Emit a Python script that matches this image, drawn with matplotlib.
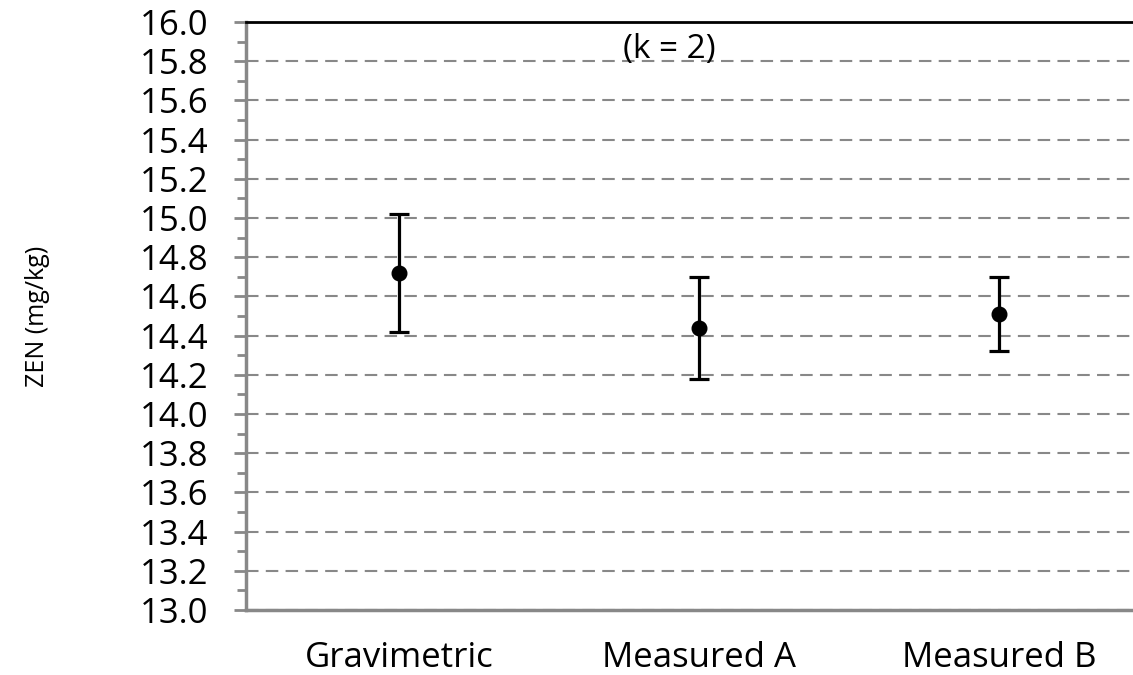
import matplotlib.pyplot as plt
from matplotlib.ticker import MultipleLocator, FormatStrFormatter

plt.rcParams['font.family'] = ['Open Sans', 'DejaVu Sans']

# data
categories = ['Gravimetric', 'Measured A', 'Measured B']
values = [14.72, 14.44, 14.51]
uncert = [0.30, 0.26, 0.19]   # expanded uncertainty, k = 2

fig = plt.figure(figsize=(11.33, 6.75), dpi=100)
ax = fig.add_axes([0.2171, 0.0963, 0.7829, 0.8711])

x = list(range(len(categories)))
ax.errorbar(x, values, yerr=uncert, fmt='o', color='black', ms=10.5,
            elinewidth=2.3, capsize=7, capthick=2.3, zorder=3)

ax.set_ylim(13.0, 16.0)
ax.set_xlim(-0.51, 2.447)
ax.yaxis.set_major_locator(MultipleLocator(0.2))
ax.yaxis.set_minor_locator(MultipleLocator(0.1))
ax.yaxis.set_major_formatter(FormatStrFormatter('%.1f'))
ax.set_xticks(x)
ax.set_xticklabels(categories, fontsize=25)

ax.grid(axis='y', which='major', color='#888888', linestyle=(0, (6, 3.5)), linewidth=1.5)
ax.set_axisbelow(True)

ax.tick_params(axis='y', which='major', direction='out', length=9, width=2,
               color='#888888', labelsize=25, pad=18)
ax.tick_params(axis='y', which='minor', direction='out', length=6.5, width=2,
               color='#888888')
ax.tick_params(axis='x', length=0, pad=22)

ax.spines['right'].set_visible(False)
ax.spines['top'].set_color('black')
ax.spines['top'].set_linewidth(2)
ax.spines['left'].set_color('#888888')
ax.spines['left'].set_linewidth(2.5)
ax.spines['bottom'].set_color('#888888')
ax.spines['bottom'].set_linewidth(2.5)

ax.text(0.9, 15.86, '(k = 2)', fontsize=24, ha='center', va='center')

fig.text(0.033, 0.532, 'ZEN (mg/kg)', rotation=90, fontsize=18, ha='center', va='center')

plt.savefig('out.png', dpi=100)
